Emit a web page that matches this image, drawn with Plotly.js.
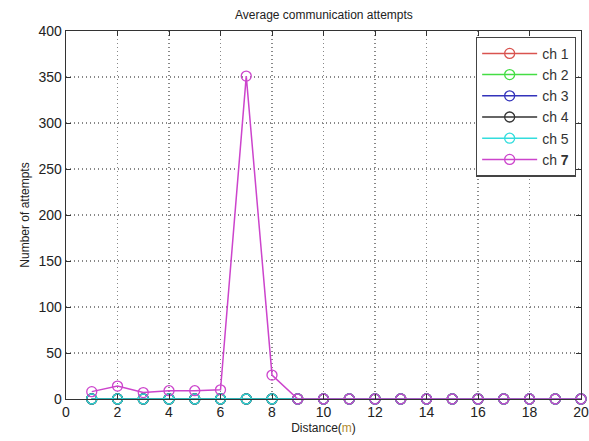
<!DOCTYPE html>
<html><head><meta charset="utf-8">
<script src="https://cdn.plot.ly/plotly-3.0.1.min.js"></script>
<style>body{margin:0;background:#fff}#c{width:589px;height:441px}</style>
</head><body><div id="c"></div>
<script>
const distance = [1,2,3,4,5,6,7,8,9,10,11,12,13,14,15,16,17,18,19,20];
const ch1 = [0,0,0,0,0,0,0,0,0,0,0,0,0,0,0,0,0,0,0,0];
const ch2 = [0,0,0,0,0,0,0,0,0,0,0,0,0,0,0,0,0,0,0,0];
const ch3 = [0,0,0,0,0,0,0,0,0,0,0,0,0,0,0,0,0,0,0,0];
const ch4 = [0,0,0,0,0,0,0,0,0,0,0,0,0,0,0,0,0,0,0,0];
const ch5 = [0,0,0,0,0,0,0,0,0,0,0,0,0,0,0,0,0,0,0,0];
const ch7 = [8,14,7,9,9,10,351,26,0,0,0,0,0,0,0,0,0,0,0,0];
const names = ['ch 1','ch 2','ch 3','ch 4','ch 5','ch <b>7</b>'];
const colors = ['#d9534f','#44dd44','#3333bb','#333333','#33dddd','#cc44cc'];
const series = [ch1,ch2,ch3,ch4,ch5,ch7];
const traces = series.map((s,i)=>({
  x: distance, y: s, name: names[i], type:'scatter', mode:'lines+markers', cliponaxis:false,
  line:{color:colors[i], width:1.5},
  marker:{symbol:'circle-open', size:10, color:colors[i], line:{width:1.3}}
}));
const ax = {
  showline:true, mirror:'ticks', linecolor:'#333', linewidth:1.3,
  ticks:'inside', ticklen:5, tickcolor:'#333',
  showgrid:true, gridcolor:'#888', griddash:'1px,3px', gridwidth:1.3,
  zeroline:false, tickfont:{family:'Liberation Sans, Arial', size:14, color:'#222'}
};
const layout = {
  width:589, height:441,
  margin:{l:66, r:8, t:31, b:42},
  paper_bgcolor:'#fff', plot_bgcolor:'#fff',
  title:{text:'Average communication attempts', x:0.55, xanchor:'center', y:0.975, yanchor:'top',
    font:{family:'Liberation Sans, Arial', size:12, color:'#222'}},
  xaxis:Object.assign({}, ax, {range:[0,20], dtick:2, tick0:0,
    title:{text:'Distance(<span style="color:#b08a30">m</span>)', standoff:4, font:{family:'Liberation Sans, Arial', size:12, color:'#222'}}}),
  yaxis:Object.assign({}, ax, {range:[0,400], dtick:50, tick0:0,
    title:{text:'Number of attempts', standoff:6, font:{family:'Liberation Sans, Arial', size:12, color:'#222'}}}),
  showlegend:true,
  legend:{x:0.99, xanchor:'right', y:0.985, yanchor:'top', bgcolor:'#fff',
    bordercolor:'#444', borderwidth:1.3, tracegroupgap:0,
    font:{family:'Liberation Sans, Arial', size:14, color:'#333'}, itemwidth:55}
};
Plotly.newPlot('c', traces, layout, {displayModeBar:false, staticPlot:true});
</script></body></html>
